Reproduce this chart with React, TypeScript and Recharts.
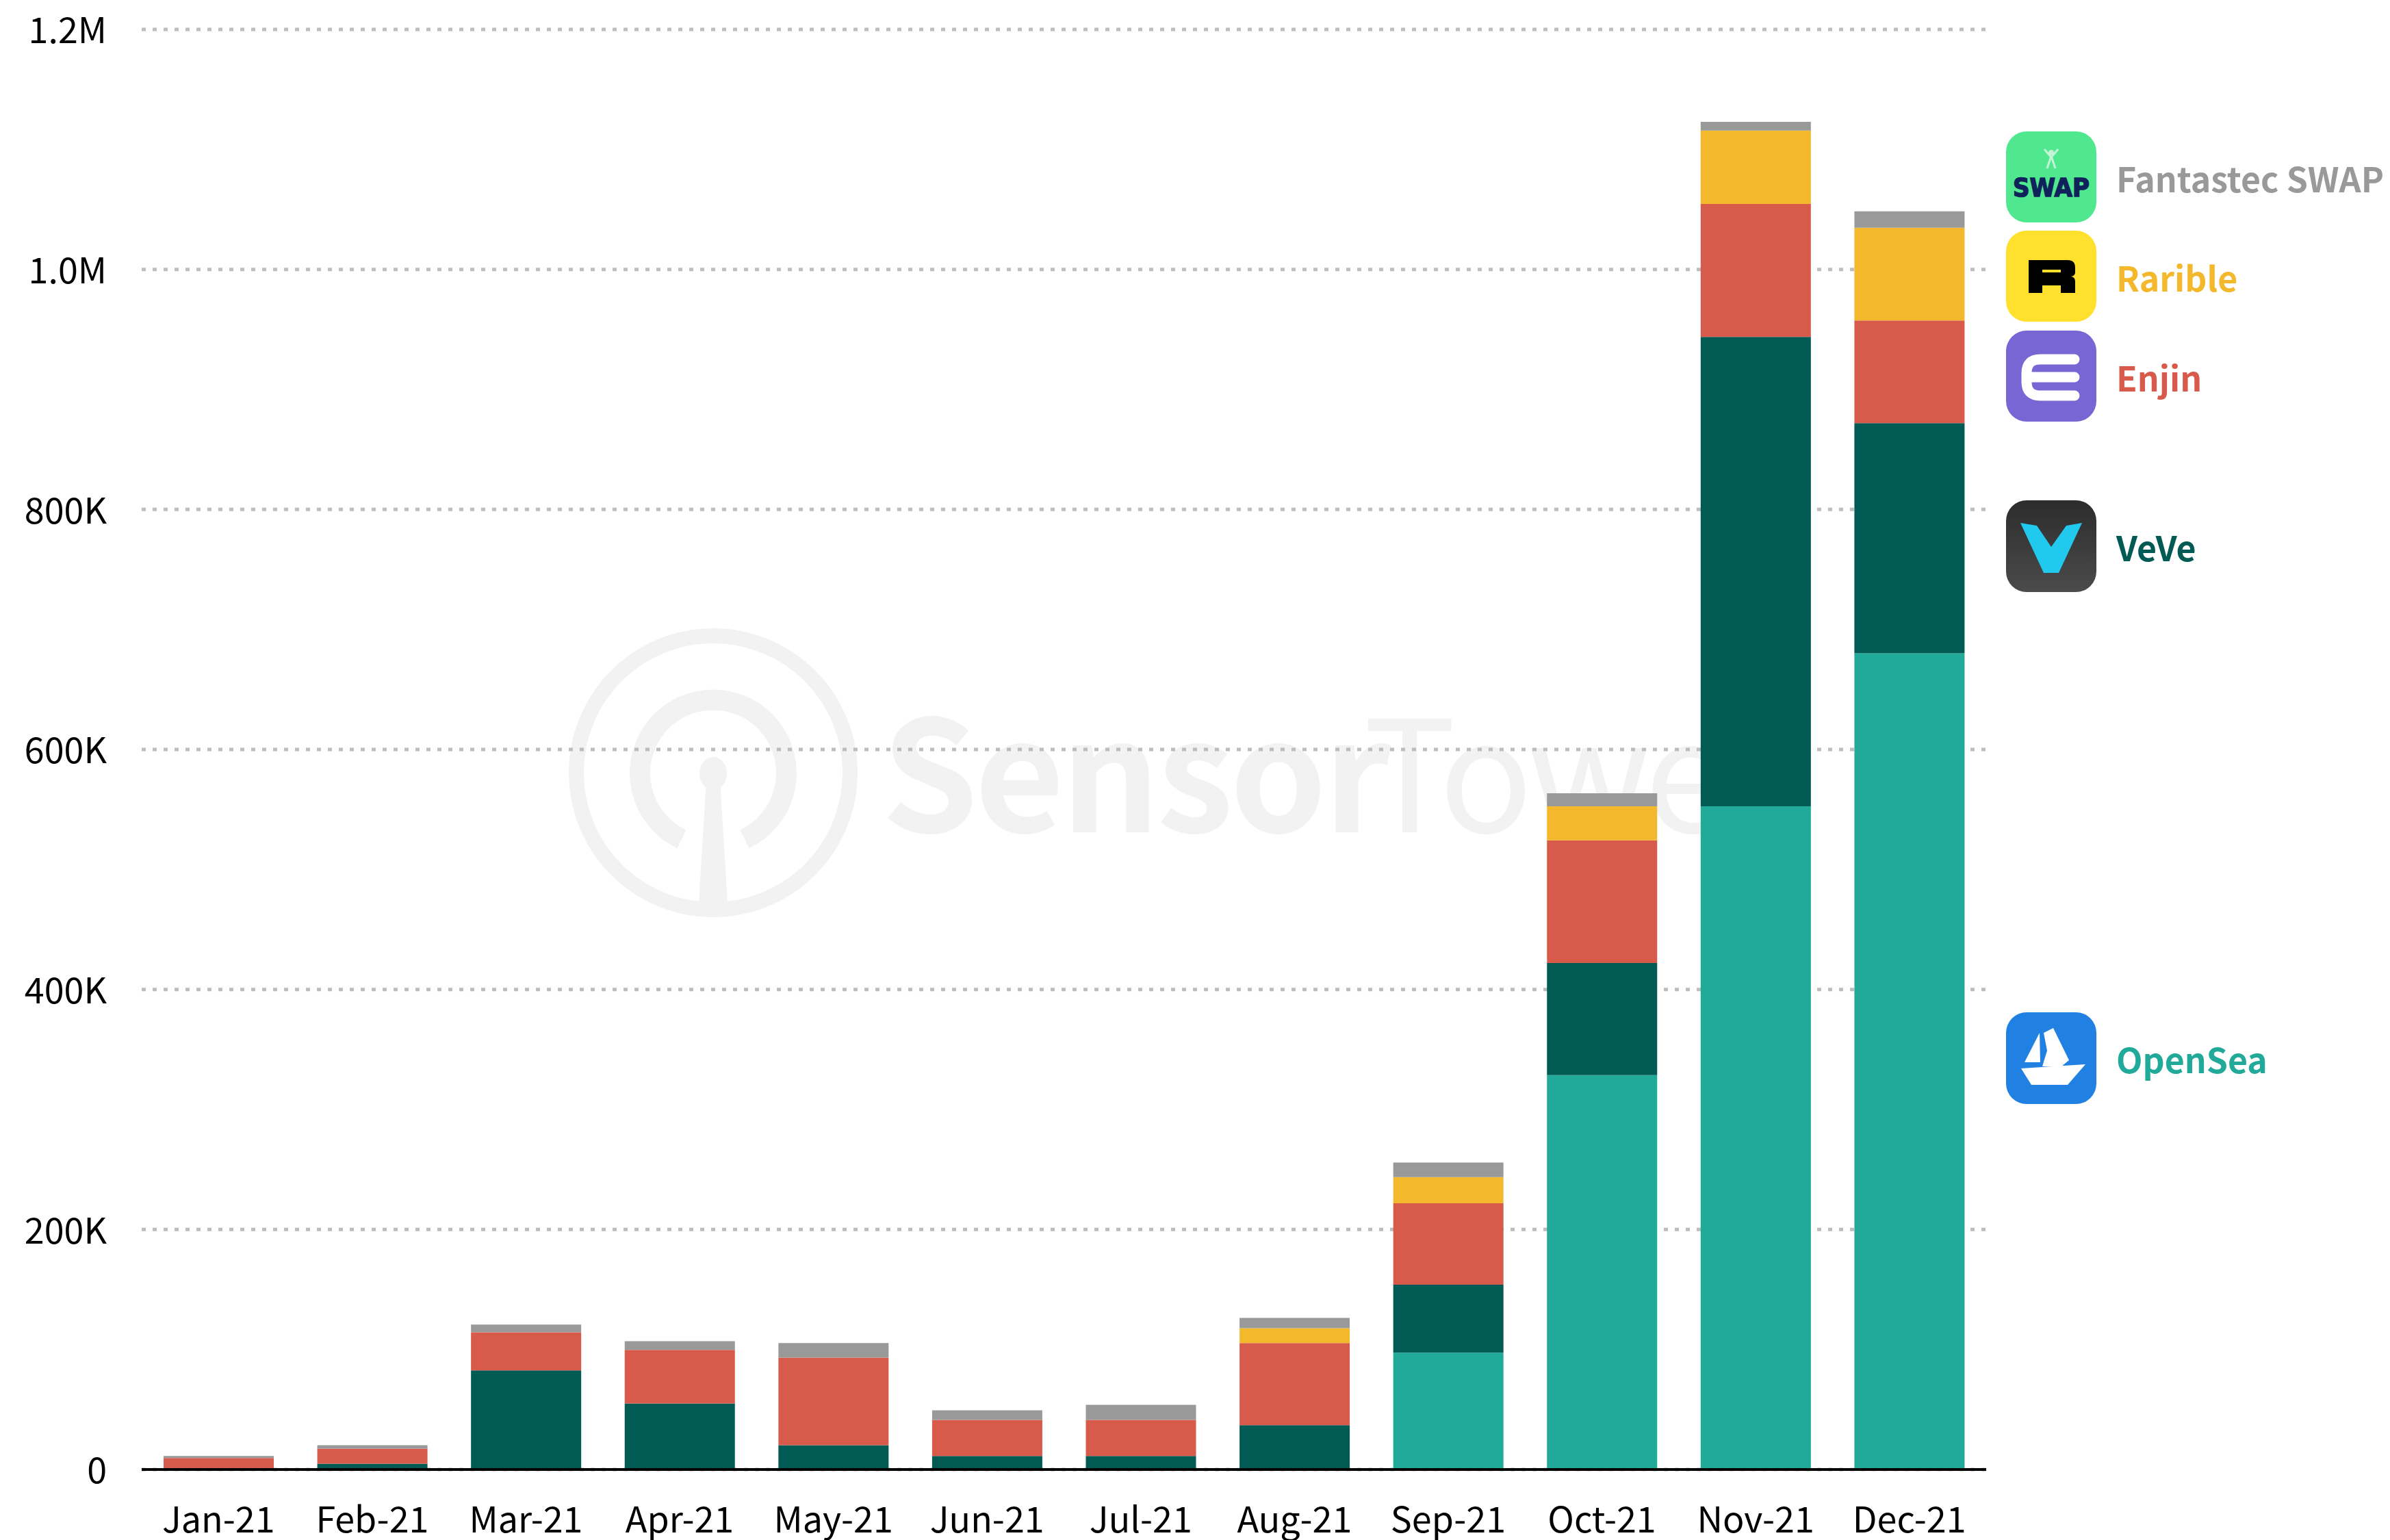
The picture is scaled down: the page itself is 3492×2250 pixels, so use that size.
import React from "react";
import { BarChart, Bar, XAxis, YAxis, CartesianGrid } from "recharts";

const months = ["Jan-21", "Feb-21", "Mar-21", "Apr-21", "May-21", "Jun-21", "Jul-21", "Aug-21", "Sep-21", "Oct-21", "Nov-21", "Dec-21"];
const openSea = [0, 0, 0, 0, 0, 0, 0, 0, 97400, 328600, 552700, 680200];
const veve = [0, 4900, 82500, 55100, 20300, 11200, 11200, 36900, 56600, 93400, 391100, 191700];
const enjin = [9500, 12500, 31900, 44500, 73000, 30200, 30200, 68400, 67900, 102300, 110800, 85600];
const rarible = [0, 0, 0, 0, 0, 0, 0, 12500, 21800, 28300, 61100, 77200];
const fantastec = [1700, 2900, 6300, 7400, 12000, 8000, 12500, 8600, 12100, 10900, 7300, 13800];
const yTicks = [0, 200000, 400000, 600000, 800000, 1000000, 1200000];

const TEAL = "#21A99A";
const DARK = "#025A55";
const RED = "#D85A4B";
const YELLOW = "#F4B82D";
const GRAY = "#999999";
const FONT = "'Noto Sans CJK SC', 'Noto Sans', sans-serif";

const data = months.map((month, i) => ({
  month,
  openSea: openSea[i],
  veve: veve[i],
  enjin: enjin[i],
  rarible: rarible[i],
  fantastec: fantastec[i],
}));

function formatTick(v: number) {
  if (v === 0) return "0";
  if (v >= 1000000) return `${(v / 1000000).toFixed(1)}M`;
  return `${v / 1000}K`;
}

function Watermark() {
  const c = "#F2F2F2";
  return (
    <svg width={3492} height={2250} style={{ position: "absolute", left: 0, top: 0 }}>
      <circle cx={1042} cy={1129} r={200} fill="none" stroke={c} strokeWidth={22} />
      <path d="M996 1226 A107 107 0 1 1 1088 1226" fill="none" stroke={c} strokeWidth={30} />
      <ellipse cx={1042} cy={1130} rx={20} ry={24} fill={c} />
      <path d="M1032 1140 H1052 L1063 1320 H1021 Z" fill={c} />
      <text y={1216} fontFamily={FONT} fontSize={226} fill={c}>
        <tspan x={1288} fontWeight={700} letterSpacing={-5}>Sensor</tspan>
        <tspan x={1992} fontWeight={400} letterSpacing={-8}>Tower</tspan>
      </text>
    </svg>
  );
}

function IconSwap() {
  return (
    <>
      <rect width={132} height={133} rx={30} fill="#50E88F" />
      <circle cx={66} cy={31} r={4} fill="#C4F5D6" />
      <path d="M56 26 L66 38 L76 26 M66 36 L60 54 M66 36 L72 54" stroke="#C4F5D6" strokeWidth={3} fill="none" />
      <text x={10} y={95} fontFamily="'DejaVu Sans', sans-serif" fontWeight={700} fontSize={37} textLength={112} lengthAdjust="spacingAndGlyphs" fill="#10225A" stroke="#10225A" strokeWidth={1.5}>SWAP</text>
    </>
  );
}

function IconRarible() {
  return (
    <>
      <rect width={132} height={133} rx={30} fill="#FFE02D" />
      <path d="M33 43 H90 Q101 43 101 54 V61 Q101 66 95 67 Q101 68 101 74 V91 H80 V80 H53 V91 H33 Z" fill="#000" />
      <rect x={53} y={57} width={27} height={4} fill="#FFE02D" />
    </>
  );
}

function IconEnjin() {
  return (
    <>
      <rect width={132} height={133} rx={30} fill="#7766D3" />
      <path d="M100 42 H50 Q30 42 30 62 V75 Q30 95 50 95 H100 M38 68 H100" fill="none" stroke="#fff" strokeWidth={15} strokeLinecap="round" />
    </>
  );
}

function IconVeve() {
  return (
    <>
      <defs>
        <linearGradient id="veveBg" x1="0" y1="0" x2="0" y2="1">
          <stop offset="0" stopColor="#2C2C2C" />
          <stop offset="1" stopColor="#4B4B4B" />
        </linearGradient>
      </defs>
      <rect width={132} height={134} rx={30} fill="url(#veveBg)" />
      <polygon points="21,33 45,37 66,68 88,37 111,33 77,106 55,106" fill="#22C9EE" />
    </>
  );
}

function IconOpenSea() {
  return (
    <>
      <rect width={132} height={134} rx={30} fill="#2081E2" />
      <polygon points="55,30 69,23 92,70 80,80 53,79 60,56" fill="#fff" />
      <polygon points="27,73 49,30 50,73" fill="#fff" />
      <polygon points="22,82 116,76 90,106 37,106" fill="#fff" />
    </>
  );
}

const legendItems = [
  { name: "Fantastec SWAP", color: GRAY, top: 192, Icon: IconSwap },
  { name: "Rarible", color: YELLOW, top: 337, Icon: IconRarible },
  { name: "Enjin", color: RED, top: 483, Icon: IconEnjin },
  { name: "VeVe", color: DARK, top: 731, Icon: IconVeve },
  { name: "OpenSea", color: TEAL, top: 1479, Icon: IconOpenSea },
];

function AppLegend() {
  return (
    <>
      {legendItems.map(({ name, color, top, Icon }) => (
        <div key={name} style={{ position: "absolute", left: 2931, top, height: 134, display: "flex", alignItems: "center", whiteSpace: "nowrap" }}>
          <svg width={132} height={134} style={{ display: "block" }}>
            <Icon />
          </svg>
          <span style={{ marginLeft: 29, fontFamily: FONT, fontWeight: 700, fontSize: 50, color, lineHeight: "134px" }}>{name}</span>
        </div>
      ))}
    </>
  );
}

export default function App() {
  return (
    <div style={{ position: "absolute", left: 0, top: 0, width: 3492, height: 2250, background: "#fff", overflow: "hidden" }}>
      <Watermark />
      <div style={{ position: "absolute", left: 0, top: 0 }}>
        <BarChart
          width={3492}
          height={2250}
          data={data}
          barSize={161}
          margin={{ top: 43, right: 590, bottom: 0, left: 0 }}
        >
          <CartesianGrid vertical={false} stroke="#BDBDBD" strokeWidth={5} strokeDasharray="6 10" />
          <XAxis
            dataKey="month"
            interval={0}
            height={103}
            tickLine={false}
            axisLine={{ stroke: "#000", strokeWidth: 4 }}
            tickMargin={49}
            tick={{ fontFamily: FONT, fontSize: 52, fill: "#000" }}
          />
          <YAxis
            width={207}
            domain={[0, 1200000]}
            ticks={yTicks}
            tickFormatter={formatTick}
            tickLine={false}
            axisLine={false}
            tickMargin={45}
            tick={{ fontFamily: FONT, fontSize: 52, fill: "#000", dy: 2 }}
          />
          <Bar dataKey="openSea" stackId="a" fill={TEAL} isAnimationActive={false} />
          <Bar dataKey="veve" stackId="a" fill={DARK} isAnimationActive={false} />
          <Bar dataKey="enjin" stackId="a" fill={RED} isAnimationActive={false} />
          <Bar dataKey="rarible" stackId="a" fill={YELLOW} isAnimationActive={false} />
          <Bar dataKey="fantastec" stackId="a" fill={GRAY} isAnimationActive={false} />
        </BarChart>
      </div>
      <AppLegend />
    </div>
  );
}
